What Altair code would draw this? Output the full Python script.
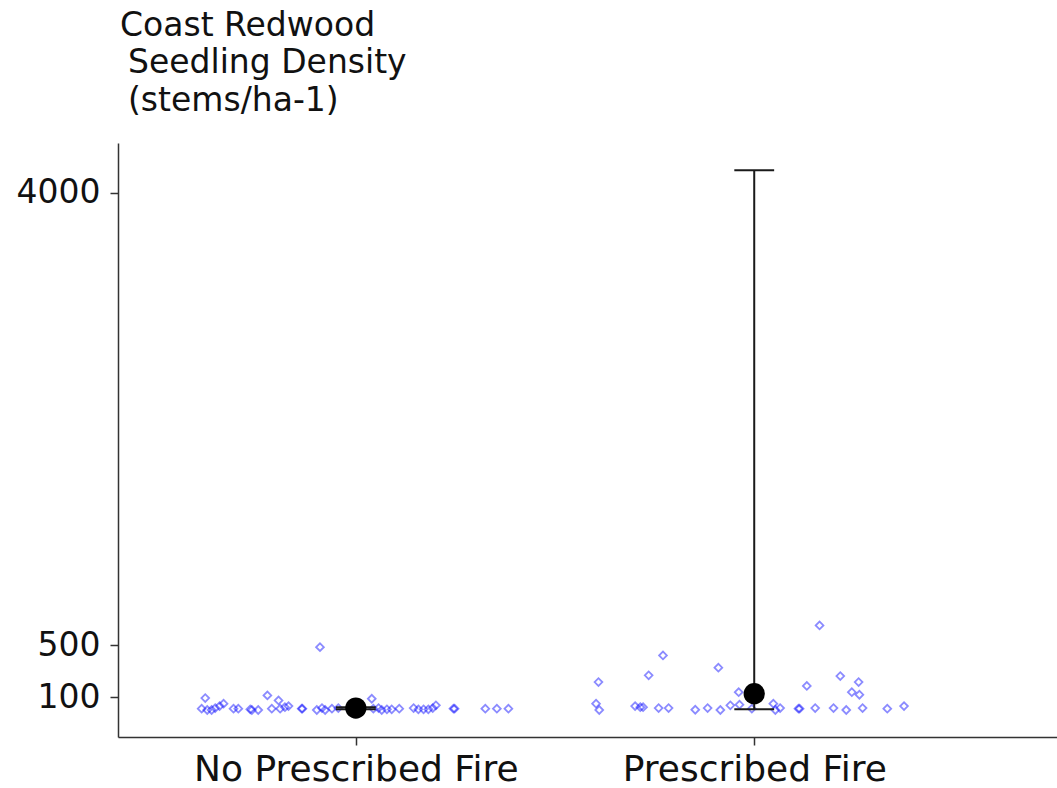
import altair as alt
import pandas as pd

categories = ["No Prescribed Fire", "Prescribed Fire"]
title_lines = ["Coast Redwood", "Seedling Density", "(stems/ha-1)"]

# jitter offsets (in category units) and values
npf_offset = [-0.090, -0.378, -0.387, -0.373, -0.362, -0.353, -0.342, -0.332, -0.307, -0.295,
              -0.265, -0.261, -0.245, -0.222, -0.194, -0.211, -0.190, -0.178, -0.169, -0.136,
              -0.134, -0.098, -0.085, -0.077, -0.060, -0.044, 0.040, 0.044, 0.057, 0.065,
              0.078, 0.090, 0.109, 0.145, 0.157, 0.170, 0.182, 0.193, 0.201, 0.245,
              0.248, 0.325, 0.354, 0.383]
npf_value = [486, 92, 10, 0, 0, 15, 30, 49, 10, 10,
             5, 0, 0, 113, 74, 10, 10, 22, 30, 10,
             10, 0, 15, 0, 10, 15, 87, 10, 15, 0,
             5, 5, 10, 15, 5, 5, 5, 15, 36, 10,
             10, 10, 10, 10]

pf_offset = [-0.391, -0.397, -0.389, -0.265, -0.229, -0.299, -0.286, -0.279, -0.240, -0.215,
             -0.148, -0.117, -0.090, -0.085, -0.060, -0.039, -0.037, -0.006, 0.048, 0.053,
             0.065, 0.111, 0.114, 0.132, 0.164, 0.216, 0.262, 0.245, 0.264, 0.153,
             0.199, 0.231, 0.272, 0.334, 0.376]
pf_value = [216, 49, 0, 268, 422, 30, 22, 22, 15, 15,
            2, 15, 327, 0, 36, 138, 41, 10, 49, 0,
            15, 10, 10, 186, 654, 262, 216, 138, 118, 15,
            15, 0, 15, 10, 30]

mean_values = [15, 126]
err_low = [5, 5]
err_high = [22, 4172]
y_ticks = [100, 500, 4000]

pts = pd.DataFrame({
    "x": [1 + o for o in npf_offset] + [2 + o for o in pf_offset],
    "y": npf_value + pf_value,
})
summ = pd.DataFrame({
    "pos": [1, 2],
    "cat": categories,
    "mean": mean_values,
    "lo": err_low,
    "hi": err_high,
})

label_expr = "datum.value == 1 ? '%s' : '%s'" % (categories[0], categories[1])

xs = alt.Scale(domain=[0.403, 2.76], nice=False, zero=False)
ys = alt.Scale(domain=[-208.7, 4382.7], nice=False, zero=False)

xaxis = alt.Axis(values=[1, 2], labelExpr=label_expr, title=None, grid=False,
                 tickSize=8, tickWidth=1.5, tickColor="#333333",
                 domainColor="#333333", domainWidth=1.5,
                 labelFont="DejaVu Sans", labelFontSize=36, labelColor="#111111",
                 labelPadding=7, labelFlush=False, labelLimit=0, labelOverlap=False)
yaxis = alt.Axis(values=y_ticks, grid=False, format="d", title=None,
                 tickSize=8, tickWidth=1.5, tickColor="#333333",
                 domainColor="#333333", domainWidth=1.5,
                 labelFont="DejaVu Sans", labelFontSize=33, labelColor="#111111",
                 labelPadding=10, labelFlush=False, labelOverlap=False)

points = alt.Chart(pts).mark_point(
    shape="diamond", filled=False, color="#0000ff", opacity=0.45, size=60, strokeWidth=1.8
).encode(
    x=alt.X("x:Q", scale=xs, axis=xaxis),
    y=alt.Y("y:Q", scale=ys, axis=yaxis),
)

base = alt.Chart(summ).transform_calculate(
    left="datum.pos - 0.05", right="datum.pos + 0.05"
)

vrule = base.mark_rule(color="#1a1a1a", strokeWidth=2).encode(
    x=alt.X("pos:Q", scale=xs, axis=xaxis),
    y=alt.Y("lo:Q", scale=ys, axis=yaxis),
    y2="hi:Q",
)
whisk_lo = base.mark_rule(color="#1a1a1a", strokeWidth=2).encode(
    x=alt.X("left:Q", scale=xs, axis=xaxis),
    x2="right:Q",
    y=alt.Y("lo:Q", scale=ys, axis=yaxis),
)
whisk_hi = base.mark_rule(color="#1a1a1a", strokeWidth=2).encode(
    x=alt.X("left:Q", scale=xs, axis=xaxis),
    x2="right:Q",
    y=alt.Y("hi:Q", scale=ys, axis=yaxis),
)
means = base.mark_circle(size=452, color="black", opacity=1).encode(
    x=alt.X("pos:Q", scale=xs, axis=xaxis),
    y=alt.Y("mean:Q", scale=ys, axis=yaxis),
)

# title text placed in the top padding (y-axis title, ggplot-style)
title1 = alt.Chart(pd.DataFrame({"t": [title_lines[0]]})).mark_text(
    align="left", baseline="alphabetic", font="DejaVu Sans", fontSize=33,
    color="#111111"
).encode(text="t:N", x=alt.value(2), y=alt.value(-107))
title2 = alt.Chart(pd.DataFrame({"t": [title_lines[1:]]})).mark_text(
    align="left", baseline="alphabetic", font="DejaVu Sans", fontSize=33,
    color="#111111", lineHeight=37.5
).encode(text="t", x=alt.value(10), y=alt.value(-70))

chart = alt.layer(points, vrule, whisk_lo, whisk_hi, means, title1, title2).properties(
    width=939,
    height=594,
    autosize=alt.AutoSizeParams(type="none"),
    padding={"left": 118, "top": 143, "right": 0, "bottom": 51},
    background="white",
).configure_view(stroke=None)

chart.save("out.html", embed_options={"renderer": "svg", "actions": False})
